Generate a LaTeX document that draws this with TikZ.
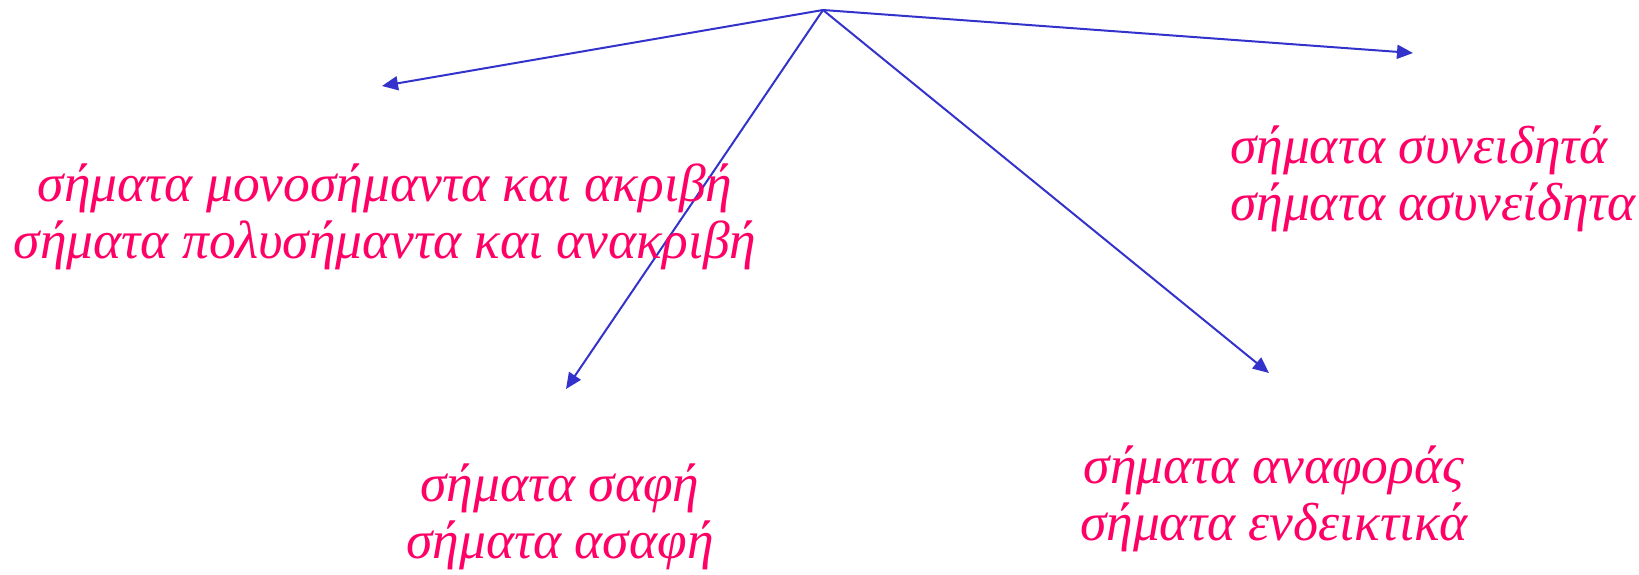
\documentclass[tikz,border=0pt]{standalone}
\usepackage{fontspec}
\setmainfont{Liberation Serif}
\usetikzlibrary{arrows.meta}
\definecolor{txtpink}{HTML}{FF0066}
\definecolor{lineblue}{HTML}{3333CC}
\tikzset{
  lbl/.style={text=txtpink, inner sep=0pt, font=\itshape\fontsize{53.5}{57}\selectfont},
  conn/.style={draw=lineblue, line width=2pt, -{Triangle[length=16pt,width=14pt]}}
}
\begin{document}
\begin{tikzpicture}[x=1pt,y=-1pt]
\useasboundingbox (0,0) rectangle (1639,574);
\coordinate (apex) at (823,10);
\coordinate (tl) at (382,86);
\coordinate (tr) at (1413,53);
\coordinate (bl) at (566,389);
\coordinate (br) at (1269,373);
\draw[conn] (apex) -- (tl);
\draw[conn] (apex) -- (tr);
\draw[conn] (apex) -- (bl);
\draw[conn] (apex) -- (br);
\node[lbl, align=center, anchor=base] (left) at (385,258) {σήματα μονοσήμαντα και ακριβή\\σήματα πολυσήμαντα και ανακριβή};
\node[lbl, align=left, anchor=base west] (right) at (1230,220) {σήματα συνειδητά\\σήματα ασυνείδητα};
\node[lbl, align=center, anchor=base] (botl) at (560,558) {σήματα σαφή\\σήματα ασαφή};
\node[lbl, align=center, anchor=base] (botr) at (1274,540) {σήματα αναφοράς\\σήματα ενδεικτικά};
\end{tikzpicture}
\end{document}
